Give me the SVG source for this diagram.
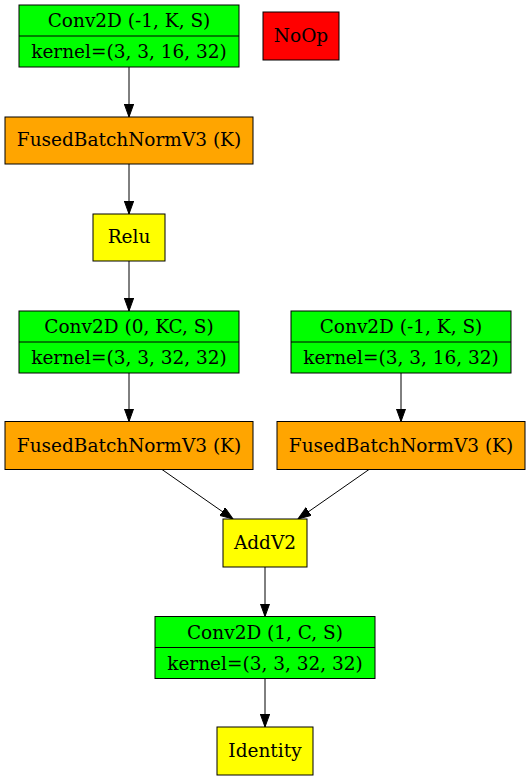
<svg xmlns="http://www.w3.org/2000/svg" width="531" height="781" viewBox="0 0 531 781">
<style>
.n { stroke: #000; stroke-width: 1; }
.g { fill: #00ff00; }
.o { fill: #ffa500; }
.y { fill: #ffff00; }
.r { fill: #ff0000; }
text { font-family: "DejaVu Serif", serif; font-size: 18.5px; text-anchor: middle; fill: #000; }
.edge { stroke: #000; stroke-width: 1; fill: none; }
</style>
<defs>
<marker id="arr" markerUnits="userSpaceOnUse" markerWidth="14" markerHeight="10" refX="13" refY="4.7" orient="auto">
<path d="M0,0 L13,4.7 L0,9.4 z" fill="#000" stroke="#000" stroke-width="1"/>
</marker>
</defs>
<rect width="531" height="781" fill="#fff"/>
<g id="connectors">
<line class="edge" x1="129" y1="67" x2="129" y2="117" marker-end="url(#arr)"/>
<line class="edge" x1="129" y1="164" x2="129" y2="214" marker-end="url(#arr)"/>
<line class="edge" x1="129" y1="261" x2="129" y2="311" marker-end="url(#arr)"/>
<line class="edge" x1="129" y1="373" x2="129" y2="421.5" marker-end="url(#arr)"/>
<line class="edge" x1="401" y1="373" x2="401" y2="421.5" marker-end="url(#arr)"/>
<line class="edge" x1="162" y1="469.5" x2="233" y2="519" marker-end="url(#arr)"/>
<line class="edge" x1="369" y1="469.5" x2="298" y2="519" marker-end="url(#arr)"/>
<line class="edge" x1="265" y1="567" x2="265" y2="616.5" marker-end="url(#arr)"/>
<line class="edge" x1="265" y1="678.5" x2="265" y2="727" marker-end="url(#arr)"/>
</g>
<g id="conv1">
<rect class="n g" x="19" y="5" width="220" height="62"/>
<line class="n" x1="19" y1="36" x2="239" y2="36"/>
<text x="129" y="27">Conv2D (-1, K, S)</text>
<text x="129" y="58">kernel=(3, 3, 16, 32)</text>
</g>
<g id="noop">
<rect class="n r" x="263" y="12" width="76" height="48"/>
<text x="301" y="42">NoOp</text>
</g>
<g id="fbn1">
<rect class="n o" x="5" y="117" width="248" height="47"/>
<text x="129" y="146">FusedBatchNormV3 (K)</text>
</g>
<g id="relu">
<rect class="n y" x="93" y="214" width="72" height="47"/>
<text x="129" y="243">Relu</text>
</g>
<g id="conv2">
<rect class="n g" x="19" y="311" width="220" height="62"/>
<line class="n" x1="19" y1="342" x2="239" y2="342"/>
<text x="129" y="333">Conv2D (0, KC, S)</text>
<text x="129" y="364">kernel=(3, 3, 32, 32)</text>
</g>
<g id="conv3">
<rect class="n g" x="291" y="311" width="220" height="62"/>
<line class="n" x1="291" y1="342" x2="511" y2="342"/>
<text x="401" y="333">Conv2D (-1, K, S)</text>
<text x="401" y="364">kernel=(3, 3, 16, 32)</text>
</g>
<g id="fbn2">
<rect class="n o" x="5" y="421.5" width="248" height="48"/>
<text x="129" y="451.5">FusedBatchNormV3 (K)</text>
</g>
<g id="fbn3">
<rect class="n o" x="277" y="421.5" width="248" height="48"/>
<text x="401" y="451.5">FusedBatchNormV3 (K)</text>
</g>
<g id="addv2">
<rect class="n y" x="223" y="519" width="84" height="48"/>
<text x="265" y="549">AddV2</text>
</g>
<g id="conv4">
<rect class="n g" x="155" y="616.5" width="220" height="62"/>
<line class="n" x1="155" y1="647.5" x2="375" y2="647.5"/>
<text x="265" y="638.5">Conv2D (1, C, S)</text>
<text x="265" y="669.5">kernel=(3, 3, 32, 32)</text>
</g>
<g id="identity">
<rect class="n y" x="217" y="727" width="96" height="48"/>
<text x="265" y="757">Identity</text>
</g>
</svg>
